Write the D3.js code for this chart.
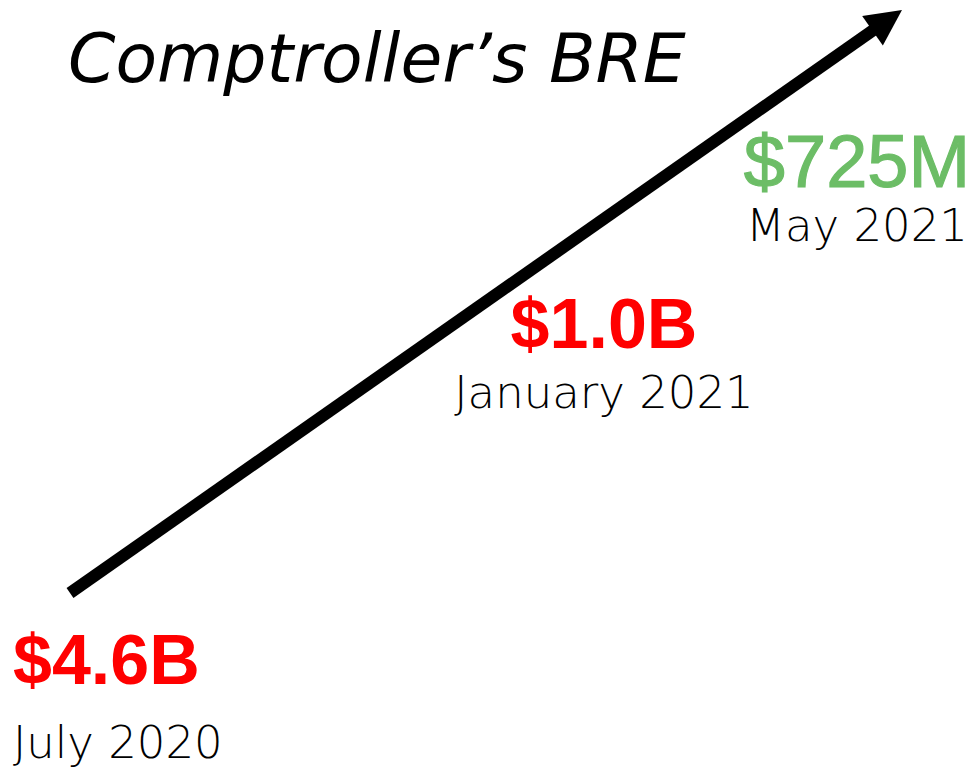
<meta charset="utf-8">
<script src="https://cdn.jsdelivr.net/npm/d3@7"></script>
<style>
  body { margin: 0; background: #fff; }
  text.title { font: italic 68px "DejaVu Sans", sans-serif; fill: #000; }
  text.value { font-family: "Liberation Sans", Arial, sans-serif; }
  text.date { font: 300 45px "DejaVu Sans", sans-serif; fill: #000; }
</style>
<body>
<script>
  var dates = ['July 2020', 'January 2021', 'May 2021'];
  var values = ['$4.6B', '$1.0B', '$725M'];
  var colors = ['#ff0000', '#ff0000', '#6cbd66'];
  var title = "Comptroller\u2019s BRE";

  var width = 975, height = 769;

  var svg = d3.select('body').append('svg')
    .attr('width', width)
    .attr('height', height);

  // arrow runs from the first estimate up past the latest one
  var ax = d3.scaleLinear().domain([0, 1]).range([70, 902]);
  var ay = d3.scaleLinear().domain([0, 1]).range([593, 10]);

  var x0 = ax(0), y0 = ay(0), x1 = ax(1), y1 = ay(1);
  var len = Math.hypot(x1 - x0, y1 - y0);
  var ux = (x1 - x0) / len, uy = (y1 - y0) / len;
  var headLen = 36, headHalf = 18;
  var bx = x1 - ux * headLen, by = y1 - uy * headLen;

  svg.append('line')
    .attr('x1', x0).attr('y1', y0)
    .attr('x2', bx + ux * 2).attr('y2', by + uy * 2)
    .attr('stroke', '#000')
    .attr('stroke-width', 12);

  svg.append('path')
    .attr('d', d3.line()([
      [x1, y1],
      [bx - uy * headHalf, by + ux * headHalf],
      [bx + uy * headHalf, by - ux * headHalf]
    ]) + 'Z')
    .attr('fill', '#000');

  svg.append('text')
    .attr('class', 'title')
    .attr('x', 68)
    .attr('y', 82)
    .text(title);

  // label layout for each estimate
  var labelX = [13, 604, 857];
  var anchors = ['start', 'middle', 'middle'];
  var valueY = [684, 348, 187];
  var dateY = [758, 408, 241];
  var valueSize = [70, 70, 74];
  var valueWeight = ['bold', 'bold', 'normal'];
  var valueStroke = [0, 0, 1.2];

  var groups = svg.selectAll('g.est').data(d3.range(dates.length))
    .enter()
    .append('g')
    .attr('class', 'est');

  groups.append('text')
    .attr('class', 'value')
    .attr('x', function(i) { return labelX[i]; })
    .attr('y', function(i) { return valueY[i]; })
    .attr('text-anchor', function(i) { return anchors[i]; })
    .attr('font-size', function(i) { return valueSize[i]; })
    .attr('font-weight', function(i) { return valueWeight[i]; })
    .attr('fill', function(i) { return colors[i]; })
    .attr('stroke', function(i) { return colors[i]; })
    .attr('stroke-width', function(i) { return valueStroke[i]; })
    .text(function(i) { return values[i]; });

  groups.append('text')
    .attr('class', 'date')
    .attr('x', function(i) { return labelX[i]; })
    .attr('y', function(i) { return dateY[i]; })
    .attr('text-anchor', function(i) { return anchors[i]; })
    .text(function(i) { return dates[i]; });
</script>
</body>
</html>
